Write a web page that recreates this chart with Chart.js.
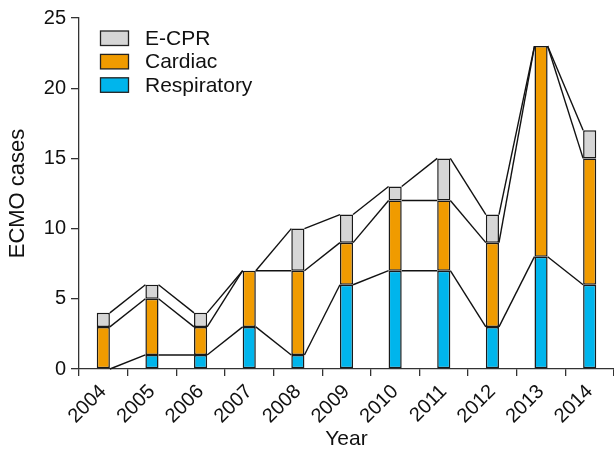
<!DOCTYPE html>
<html>
<head>
<meta charset="utf-8">
<script src="https://cdn.jsdelivr.net/npm/chart.js@4/dist/chart.umd.min.js"></script>
<style>
  html, body { margin: 0; padding: 0; background: #fff; }
  #wrap { width: 614px; height: 454px; }
</style>
</head>
<body>
<div id="wrap"><canvas id="myChart" width="614" height="454"></canvas></div>
<script>
const years = ["2004", "2005", "2006", "2007", "2008", "2009", "2010", "2011", "2012", "2013", "2014"];
const respiratory = [0, 1, 1, 3, 1, 6, 7, 7, 3, 8, 6];
const cardiac = [3, 4, 2, 4, 6, 3, 5, 5, 6, 15, 9];
const ecpr = [1, 1, 1, 0, 3, 2, 1, 3, 2, 0, 2];
const yTicks = [0, 5, 10, 15, 20, 25];

const FONT = "'Liberation Sans', Arial, sans-serif";
const colors = {
  resp: "#00b5ec",
  cardiac: "#f09b00",
  ecpr: "#d6d6d6",
};

// lines joining the top of each stack segment to the next bar
const connectors = {
  id: "connectors",
  afterDatasetsDraw(chart) {
    const ctx = chart.ctx;
    ctx.save();
    ctx.strokeStyle = "#111";
    ctx.lineWidth = 1.4;
    chart.data.datasets.forEach((ds, d) => {
      const bars = chart.getDatasetMeta(d).data;
      for (let i = 0; i < bars.length - 1; i++) {
        const a = bars[i], b = bars[i + 1];
        ctx.beginPath();
        ctx.moveTo(a.x + a.width / 2, a.y);
        ctx.lineTo(b.x - b.width / 2, b.y);
        ctx.stroke();
      }
    });
    ctx.restore();
  },
};

// legend inside the plot, top-left
const boxLegend = {
  id: "boxLegend",
  afterDraw(chart) {
    const ctx = chart.ctx;
    const items = [
      { label: "E-CPR", color: colors.ecpr },
      { label: "Cardiac", color: colors.cardiac },
      { label: "Respiratory", color: colors.resp },
    ];
    ctx.save();
    ctx.font = "21px " + FONT;
    ctx.textBaseline = "middle";
    items.forEach((it, k) => {
      const y = 31 + k * 23.4;
      ctx.fillStyle = it.color;
      ctx.fillRect(100.5, y, 28, 14.5);
      ctx.strokeStyle = "#222";
      ctx.lineWidth = 1.3;
      ctx.strokeRect(100.5, y, 28, 14.5);
      ctx.fillStyle = "#111";
      ctx.fillText(it.label, 145, y + 8);
    });
    ctx.restore();
  },
};

const canvas = document.getElementById("myChart");
const myChart = new Chart(canvas, {
  type: "bar",
  data: {
    labels: years,
    datasets: [
      { label: "Respiratory", data: respiratory, backgroundColor: colors.resp },
      { label: "Cardiac", data: cardiac, backgroundColor: colors.cardiac },
      { label: "E-CPR", data: ecpr, backgroundColor: colors.ecpr },
    ].map((ds) => ({
      ...ds,
      borderColor: "#1a1a1a",
      borderWidth: 1.5,
      borderSkipped: false,
      barPercentage: 0.27,
      categoryPercentage: 1,
    })),
  },
  options: {
    responsive: false,
    animation: false,
    layout: { padding: { top: 18, right: 0, left: 0, bottom: 0 } },
    plugins: {
      legend: { display: false },
      tooltip: { enabled: false },
    },
    scales: {
      x: {
        stacked: true,
        offset: true,
        grid: {
          display: true,
          offset: true,
          drawOnChartArea: false,
          drawTicks: true,
          tickLength: 7,
          color: "#333",
          lineWidth: 1.3,
        },
        border: { display: true, color: "#333", width: 1.3 },
        ticks: {
          color: "#111",
          font: { family: FONT, size: 20 },
          minRotation: 45,
          maxRotation: 45,
          padding: 4,
        },
        title: {
          display: true,
          text: "Year",
          color: "#111",
          font: { family: FONT, size: 21 },
          padding: { top: 0, bottom: 2 },
        },
        afterFit(scale) {
          scale.height = 85;
          scale.paddingLeft = 0;
          scale.paddingRight = 0;
        },
      },
      y: {
        stacked: true,
        min: 0,
        max: 25,
        afterBuildTicks(scale) {
          scale.ticks = yTicks.map((v) => ({ value: v }));
        },
        grid: {
          display: true,
          drawOnChartArea: false,
          drawTicks: true,
          tickLength: 8,
          color: "#333",
          lineWidth: 1.3,
        },
        border: { display: true, color: "#333", width: 1.3 },
        ticks: {
          color: "#111",
          font: { family: FONT, size: 20 },
          padding: 5,
        },
        title: {
          display: true,
          text: "ECMO cases",
          color: "#111",
          font: { family: FONT, size: 22 },
          padding: { top: 5, bottom: 0 },
        },
        afterFit(scale) {
          scale.width = 79;
        },
      },
    },
  },
  plugins: [connectors, boxLegend],
});
</script>
</body>
</html>
